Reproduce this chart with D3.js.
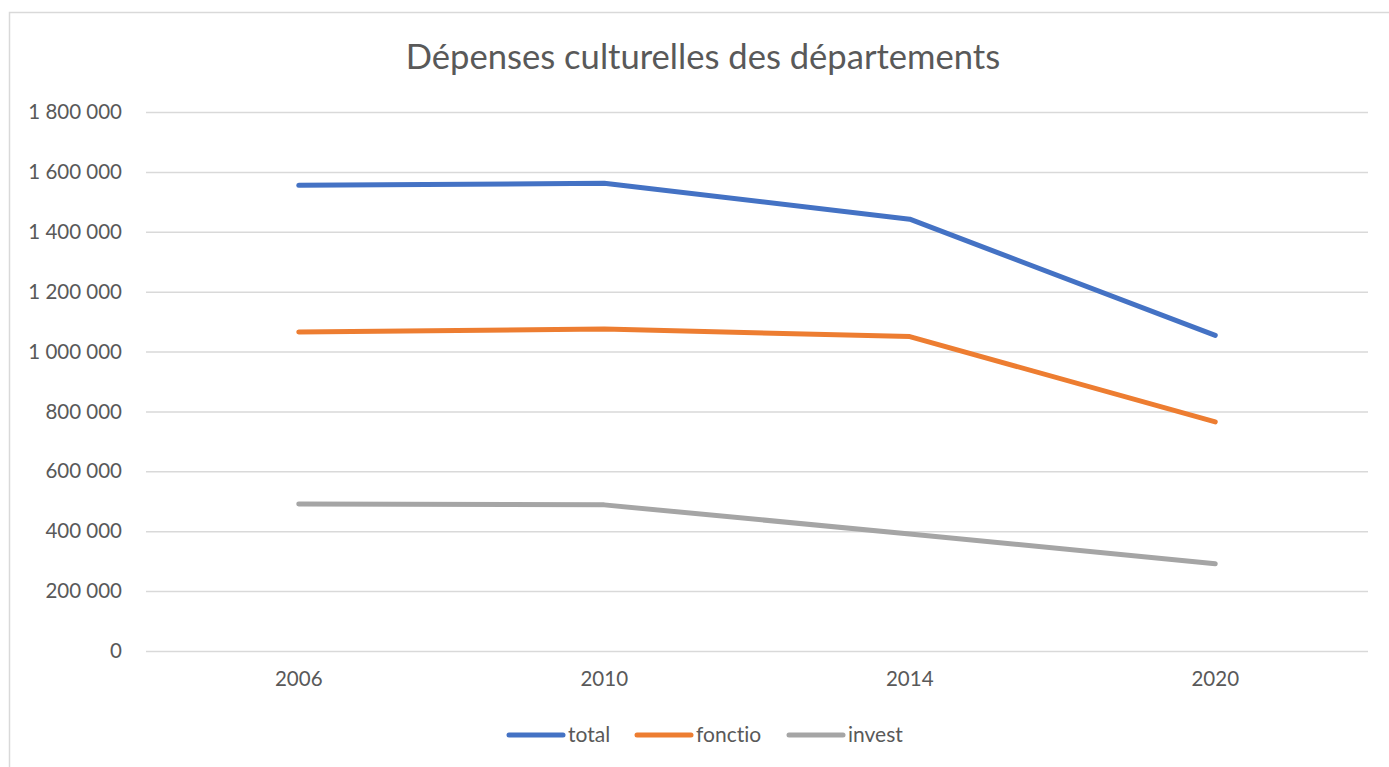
<!DOCTYPE html>
<html>
<head>
<meta charset="utf-8">
<script src="https://cdn.jsdelivr.net/npm/d3@7"></script>
<style>
  html, body { margin: 0; padding: 0; background: #fff; }
  svg { display: block; font-family: Lato, "Open Sans", sans-serif; font-variant-ligatures: none; }
</style>
</head>
<body>
<svg id="chart" width="1389" height="767"></svg>
<script>
const title = "Dépenses culturelles des départements";
const categories = ["2006", "2010", "2014", "2020"];
const seriesNames = ["total", "fonctio", "invest"];
const totalValues = [1555000, 1562000, 1442000, 1054000];
const fonctioValues = [1065000, 1075000, 1050000, 765000];
const investValues = [491000, 488000, 391000, 291000];
const yTicks = [0, 200000, 400000, 600000, 800000, 1000000, 1200000, 1400000, 1600000, 1800000];
const colors = ["#4472C4", "#ED7D31", "#A5A5A5"];

const series = [
  { name: seriesNames[0], values: totalValues, color: colors[0] },
  { name: seriesNames[1], values: fonctioValues, color: colors[1] },
  { name: seriesNames[2], values: investValues, color: colors[2] }
];

const svg = d3.select("#chart");
const W = 1389, H = 767;
const plot = { left: 146, right: 1368, top: 112, bottom: 651 };
const textColor = "#595959";
const gridColor = "#d9d9d9";

// chart border
svg.append("rect")
  .attr("x", 9.5).attr("y", 12.5)
  .attr("width", W + 20).attr("height", H + 20)
  .attr("fill", "none").attr("stroke", gridColor).attr("stroke-width", 1.5);

const x = d3.scaleBand().domain(categories).range([plot.left, plot.right]).padding(0);
const y = d3.scaleLinear().domain([0, 1800000]).range([plot.bottom, plot.top]);

const fmt = v => d3.format(",")(v).replace(/,/g, " ");

// y axis (gridlines + labels)
const yAxis = d3.axisLeft(y).tickValues(yTicks).tickFormat(fmt)
  .tickSize(-(plot.right - plot.left)).tickPadding(24);
const yg = svg.append("g").attr("transform", `translate(${plot.left},0)`).call(yAxis);
yg.select(".domain").remove();
yg.selectAll(".tick line").attr("stroke", gridColor).attr("stroke-width", 1.5);
yg.selectAll(".tick text").attr("fill", textColor).attr("font-size", 20.5)
  .attr("font-family", "Lato, sans-serif");

// x axis
const xAxis = d3.axisBottom(x).tickSize(0).tickPadding(20);
const xg = svg.append("g").attr("transform", `translate(0,${plot.bottom})`).call(xAxis);
xg.select(".domain").remove();
xg.selectAll(".tick text").attr("fill", textColor).attr("font-size", 20.5)
  .attr("font-family", "Lato, sans-serif");

// lines
const line = d3.line()
  .x((d, i) => x(categories[i]) + x.bandwidth() / 2)
  .y(d => y(d));

svg.append("g").selectAll("path").data(series).join("path")
  .attr("d", d => line(d.values))
  .attr("fill", "none")
  .attr("stroke", d => d.color)
  .attr("stroke-width", 5)
  .attr("stroke-linecap", "round")
  .attr("stroke-linejoin", "round");

// title
svg.append("text")
  .attr("x", 703).attr("y", 69)
  .attr("text-anchor", "middle")
  .attr("fill", textColor)
  .attr("font-size", 34.6)
  .text(title);

// legend
const legendX = [509, 637, 789];
const legendY = 735;
const lg = svg.append("g").selectAll("g").data(series).join("g")
  .attr("transform", (d, i) => `translate(${legendX[i]},${legendY})`);
lg.append("line")
  .attr("x1", 0).attr("x2", 54).attr("y1", 0).attr("y2", 0)
  .attr("stroke", d => d.color).attr("stroke-width", 5).attr("stroke-linecap", "round");
lg.append("text")
  .attr("x", 59).attr("y", 7)
  .attr("fill", textColor).attr("font-size", 21)
  .text(d => d.name);
</script>
</body>
</html>
